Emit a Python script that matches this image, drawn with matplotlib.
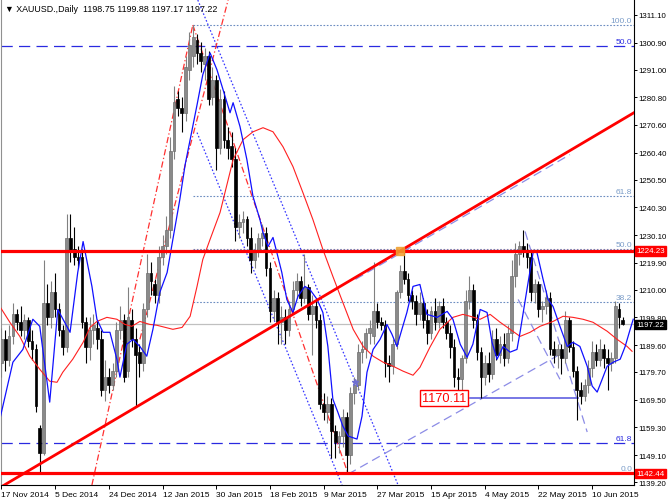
import matplotlib
matplotlib.use("Agg")
import matplotlib.pyplot as plt
import matplotlib.transforms as mtransforms
from matplotlib import font_manager
import numpy as np

# narrow font if there is one, otherwise Arial-like Liberation Sans
installed = {f.name for f in font_manager.fontManager.ttflist}
if 'Liberation Sans Narrow' in installed:
    FONT, FS, FS_Y = 'Liberation Sans Narrow', 6.8, 6.8
else:
    FONT, FS, FS_Y = 'Liberation Sans', 6.0, 5.7
plt.rcParams['font.family'] = [FONT, 'DejaVu Sans']

# daily bars (XAUUSD)
opens = [1183, 1192, 1184, 1193, 1201, 1198, 1195, 1199, 1191, 1188,
         1159, 1150, 1205, 1200, 1209, 1203, 1195, 1189, 1229, 1225,
         1222, 1222, 1198, 1189, 1195, 1196, 1192, 1173, 1178, 1175,
         1180, 1195, 1199, 1180, 1199, 1192, 1187, 1183, 1203, 1216,
         1212, 1208, 1222, 1226, 1232, 1261, 1280, 1277, 1275, 1291,
         1296, 1302, 1297, 1293, 1296, 1281, 1287, 1262, 1280, 1265,
         1263, 1258, 1233, 1235, 1236, 1229, 1221, 1224, 1229, 1231,
         1218, 1202, 1207, 1198, 1200, 1195, 1203, 1210, 1213, 1207,
         1211, 1201, 1204, 1199, 1168, 1165, 1168, 1158, 1154, 1156,
         1163, 1149, 1172, 1175, 1187, 1188, 1194, 1193, 1202, 1198,
         1197, 1183, 1182, 1190, 1209, 1217, 1214, 1208, 1206, 1201,
         1205, 1199, 1194, 1202, 1198, 1204, 1198, 1194, 1189, 1178,
         1177, 1185, 1206, 1210, 1199, 1187, 1178, 1183, 1179, 1192,
         1186, 1190, 1185, 1194, 1215, 1223, 1226, 1224, 1222, 1209,
         1212, 1203, 1204, 1207, 1188, 1186, 1188, 1185, 1199, 1189,
         1180, 1173, 1171, 1175, 1181, 1187, 1184, 1188, 1185, 1183,
         1185, 1203, 1198.75]
highs = [1196, 1195, 1197, 1205, 1203, 1204, 1201, 1200, 1195, 1190,
         1160, 1221, 1212, 1213, 1216, 1205, 1197, 1238, 1238, 1233,
         1226, 1225, 1200, 1200, 1201, 1199, 1195, 1184, 1181, 1183,
         1198, 1204, 1201, 1211, 1203, 1196, 1190, 1205, 1223, 1220,
         1214, 1226, 1230, 1237, 1266, 1285, 1283, 1281, 1296, 1305,
         1307.4, 1304, 1301, 1299, 1298, 1292, 1289, 1284, 1283, 1270,
         1268, 1262, 1238, 1239, 1237, 1233, 1227, 1231, 1234, 1233,
         1220, 1210, 1209, 1204, 1203, 1206, 1213, 1216, 1215, 1223,
         1212, 1208, 1206, 1201, 1172, 1171, 1170, 1160, 1158, 1166,
         1165, 1174, 1178, 1190, 1191, 1196, 1199, 1220, 1205, 1200,
         1199, 1186, 1192, 1210, 1219, 1224.8, 1216, 1210, 1208, 1209,
         1207, 1203, 1204, 1207, 1206, 1207, 1200, 1197, 1192, 1181,
         1186, 1210, 1215, 1212, 1201, 1189, 1186, 1187, 1195, 1196,
         1193, 1194, 1197, 1221, 1227, 1228, 1232, 1227, 1224, 1214,
         1213, 1206, 1210, 1209, 1191, 1190, 1190, 1202, 1200, 1191,
         1182, 1176, 1177, 1184, 1191, 1190, 1192, 1190, 1188, 1187,
         1206, 1205, 1199.88]
lows = [1178, 1180, 1182, 1190, 1195, 1193, 1192, 1189, 1184, 1165,
        1142.4, 1149, 1197, 1196, 1200, 1193, 1186, 1187, 1220, 1219,
        1218, 1196, 1183, 1184, 1190, 1188, 1171, 1169, 1172, 1173,
        1178, 1192, 1176, 1178, 1189, 1167, 1178, 1180, 1200, 1208,
        1205, 1205, 1219, 1223, 1229, 1258, 1274, 1268, 1272, 1287,
        1292, 1293, 1290, 1287, 1278, 1278, 1254, 1260, 1262, 1258,
        1255, 1228, 1229, 1231, 1226, 1216, 1218, 1222, 1226, 1215,
        1198, 1199, 1190, 1190, 1190, 1193, 1201, 1207, 1204, 1205,
        1199, 1186, 1196, 1166, 1162, 1161, 1148, 1148, 1150, 1152,
        1142.5, 1146, 1168, 1173, 1183, 1185, 1190, 1190, 1196, 1195,
        1178, 1176, 1179, 1188, 1207, 1212, 1206, 1203, 1197, 1199,
        1196, 1190, 1192, 1195, 1196, 1196, 1192, 1185, 1174, 1172,
        1172, 1183, 1203, 1196, 1184, 1170.11, 1175, 1176, 1177, 1184,
        1183, 1182, 1183, 1191, 1211, 1219, 1222, 1218, 1206, 1205,
        1200, 1198, 1201, 1186, 1183, 1181, 1179, 1183, 1187, 1178,
        1162, 1168, 1169, 1172, 1178, 1182, 1182, 1181, 1173, 1180,
        1183, 1196, 1197.17]
closes = [1192, 1184, 1193, 1201, 1198, 1195, 1199, 1191, 1188, 1167,
          1150, 1205, 1200, 1209, 1203, 1195, 1189, 1229, 1224, 1222,
          1221, 1198, 1189, 1195, 1197, 1192, 1173, 1178, 1175, 1180,
          1195, 1199, 1178, 1200, 1192, 1186, 1183, 1203, 1216, 1213,
          1208, 1222, 1226, 1232, 1261, 1279, 1277, 1275, 1292, 1300,
          1303, 1297, 1294, 1296, 1280, 1287, 1262, 1280, 1265, 1262,
          1258, 1233, 1235, 1236, 1229, 1221, 1224, 1229, 1231, 1218,
          1202, 1207, 1198, 1200, 1195, 1203, 1210, 1213, 1207, 1211,
          1201, 1204, 1199, 1168, 1165, 1168, 1158, 1154, 1156, 1163,
          1149, 1172, 1175, 1187, 1188, 1194, 1196, 1202, 1198, 1197,
          1183, 1182, 1190, 1209, 1217, 1214, 1208, 1206, 1201, 1205,
          1199, 1194, 1202, 1198, 1204, 1198, 1194, 1189, 1178, 1177,
          1185, 1206, 1210, 1199, 1187, 1178, 1183, 1179, 1192, 1186,
          1190, 1185, 1194, 1215, 1223, 1226, 1224, 1222, 1209, 1212,
          1203, 1204, 1207, 1188, 1186, 1188, 1185, 1199, 1189, 1180,
          1173, 1171, 1175, 1181, 1187, 1184, 1188, 1185, 1183, 1185,
          1204, 1200, 1197.22]

date_labels = ['17 Nov 2014', '5 Dec 2014', '24 Dec 2014', '12 Jan 2015',
               '30 Jan 2015', '18 Feb 2015', '9 Mar 2015', '27 Mar 2015',
               '15 Apr 2015', '4 May 2015', '22 May 2015', '10 Jun 2015']
date_bars = [0, 14, 28, 42, 56, 70, 84, 98, 112, 126, 140, 154]
price_ticks = [1311.10, 1300.90, 1291.00, 1280.80, 1270.60, 1260.40, 1250.50,
               1240.30, 1230.10, 1219.90, 1210.00, 1199.80, 1189.60, 1179.70,
               1169.50, 1159.30, 1149.10, 1139.20]

# fast MA (blue) and slow MA (red), traced as (bar, price)
fast_bar = [-0.4, 3.0, 5.6, 8.2, 10.0, 12.6, 14.7, 17.9, 19.9, 21.3, 23.6, 24.9,
            26.5, 28.3, 30.1, 30.9, 32.7, 34.3, 36.1, 37.9, 39.5, 41.3, 43.2,
            44.7, 46.5, 47.9, 49.2, 51.0, 52.5, 54.4, 56.2, 57.8, 59.6, 60.4,
            62.2, 64.0, 65.6, 67.4, 68.2, 69.5, 70.8, 71.8, 73.1, 74.4, 76.0,
            77.3, 79.1, 80.4, 82.3, 83.8, 85.1, 86.4, 87.7, 89.0, 90.4, 92.7,
            94.0, 95.3, 96.9, 98.7, 100.5, 101.8, 103.1, 104.4, 105.7, 107.3,
            109.1, 110.9, 113.6, 116.2, 117.7, 119.6, 121.4, 122.9, 124.8,
            126.6, 127.9, 129.2, 130.8, 132.6, 134.4, 135.2, 137.0, 138.6,
            139.6, 141.2, 142.5, 143.8, 145.6, 147.5, 149.0, 150.8, 152.7,
            154.0, 155.3, 156.6, 157.9, 159.5, 161.3, 162.6, 163.9, 164.7]
fast_val = [1162.3, 1183.3, 1188.0, 1199.1, 1196.5, 1168.6, 1202.7, 1194.3,
            1216.3, 1227.7, 1211.2, 1199.1, 1194.3, 1194.3, 1184.4, 1177.8,
            1189.9, 1191.7, 1189.1, 1185.5, 1195.4, 1209.0, 1216.3, 1228.5,
            1243.1, 1256.0, 1265.2, 1278.0, 1289.1, 1297.1, 1290.9, 1283.5,
            1275.1, 1278.8, 1270.0, 1257.8, 1244.2, 1235.8, 1231.0, 1225.9,
            1229.2, 1223.7, 1216.3, 1206.4, 1201.6, 1207.5, 1211.2, 1210.1,
            1206.4, 1201.6, 1189.1, 1169.7, 1164.9, 1159.8, 1156.1, 1155.0,
            1163.4, 1179.6, 1188.0, 1191.7, 1197.2, 1193.6, 1189.1, 1195.4,
            1201.6, 1211.2, 1211.9, 1200.9, 1199.8, 1202.0, 1199.1, 1189.9,
            1185.1, 1189.9, 1202.7, 1201.6, 1190.6, 1184.4, 1189.1, 1187.0,
            1188.0, 1194.3, 1210.1, 1223.7, 1223.7, 1213.8, 1206.4, 1203.8,
            1196.5, 1189.1, 1190.6, 1189.1, 1181.8, 1174.5, 1172.3, 1177.0,
            1181.8, 1183.3, 1184.4, 1189.1, 1195.4, 1199.1]
slow_bar = [-0.4, 2.2, 4.8, 7.4, 10.0, 12.6, 14.5, 16.0, 18.6, 21.3, 23.1, 24.9,
            27.5, 30.1, 32.2, 34.0, 36.1, 38.7, 40.5, 44.7, 47.1, 49.2, 51.0,
            52.5, 54.4, 57.0, 60.4, 63.0, 65.6, 68.2, 70.8, 73.4, 76.0, 78.6,
            81.2, 83.8, 86.4, 89.0, 91.7, 94.3, 96.9, 99.5, 102.1, 104.7,
            107.3, 109.1, 111.7, 114.3, 117.7, 120.3, 122.2, 124.8, 127.4,
            130.0, 132.6, 135.2, 137.8, 140.4, 143.8, 146.4, 149.0, 151.6,
            154.2, 157.9, 160.5, 163.1, 164.4]
slow_val = [1203.8, 1198.0, 1192.8, 1185.5, 1180.7, 1176.3, 1175.9, 1179.6,
            1184.4, 1190.6, 1196.1, 1198.3, 1199.8, 1199.1, 1197.2, 1196.5,
            1198.3, 1197.2, 1196.9, 1195.4, 1196.1, 1200.2, 1211.2, 1221.1,
            1228.5, 1238.4, 1257.8, 1265.2, 1268.1, 1269.6, 1268.1, 1262.6,
            1255.3, 1245.7, 1235.8, 1224.8, 1214.9, 1205.3, 1195.4, 1189.1,
            1185.5, 1183.3, 1181.8, 1180.0, 1178.5, 1181.4, 1188.8, 1195.4,
            1199.8, 1200.9, 1200.2, 1199.1, 1200.9, 1198.0, 1195.4, 1192.8,
            1194.3, 1196.5, 1198.3, 1200.2, 1199.8, 1199.1, 1198.0, 1194.7,
            1191.7, 1189.1, 1187.3]

# drawn objects, each as two (bar, price) anchors
support_line = [(10.0, 1145.8), (103.9, 1224.2)]          # thick red trend line
channel_up = [(92.3, 1213.8), (148.2, 1259.7)]             # thin dashed, upper
channel_low = [(90.4, 1142.1), (145.6, 1186.2)]            # thin dashed, lower
down_dotted = [[(51.2, 1316.6), (103.4, 1138.1)],
               [(51.0, 1267.8), (88.8, 1138.1)]]
red_dashdot = [[(23.6, 1138.1), (49.9, 1307.4)],
               [(36.1, 1191.7), (59.1, 1316.6)],
               [(49.9, 1307.4), (90.4, 1142.1)]]
late_dashed = [[(136.5, 1231.4), (152.7, 1157.6)],
               [(134.7, 1206.4), (145.6, 1177.0)]]
low_mark = [(122.2, 1170.11), (150.3, 1170.11)]

fib_names = ['0.0', '38.2', '50.0', '61.8', '100.0']
fib_prices = [1142.44, 1205.45, 1224.92, 1244.39, 1307.40]
outer_fib_names = ['50.0', '61.8']
outer_fib_prices = [1299.6, 1153.5]

resistance = 1224.23
support = 1142.44
last_price = 1197.22

X_MIN, X_MAX = -0.1, 164.9
Y_MIN, Y_MAX = 1138.1, 1316.6


def draw_segment(ax, pts, **kw):
    (x0, y0), (x1, y1) = pts
    ax.plot([x0, x1], [y0, y1], **kw)


def extend_line(pts):
    # stretch a line through two anchors across the visible bars
    (x0, y0), (x1, y1) = pts
    k = (y1 - y0) / (x1 - x0)
    return [X_MIN - 5, X_MAX + 5], [y0 + k * (X_MIN - 5 - x0), y0 + k * (X_MAX + 5 - x0)]


fig = plt.figure(figsize=(6.7, 5.02), dpi=100)
ax = fig.add_axes([1 / 670, 16 / 502, 633 / 670, 485 / 502])
ax.set_xlim(X_MIN, X_MAX)
ax.set_ylim(Y_MIN, Y_MAX)

# horizontal levels
ax.axhline(last_price, color='#c0c0c0', lw=0.9, zorder=1)
for p in outer_fib_prices:
    ax.axhline(p, color='#2a2ae0', lw=0.9, dashes=(9, 5), zorder=2)
for p in fib_prices:
    ax.plot([50, X_MAX], [p, p], color='#6b8cc0', lw=0.8, ls=(0, (1.5, 1.5)), zorder=2)
ax.axhline(resistance, color='#ff0000', lw=2.3, zorder=5)
ax.axhline(support, color='#ff0000', lw=2.3, zorder=5)

# trend lines
xs, ys = extend_line(support_line)
ax.plot(xs, ys, color='#ff0000', lw=2.0, zorder=5)
for seg in down_dotted:
    draw_segment(ax, seg, color='#3535ff', lw=0.9, ls=(0, (1.3, 1.6)), zorder=3)
for seg in red_dashdot:
    draw_segment(ax, seg, color='#ff3030', lw=0.9, ls=(0, (5, 2, 1, 2)), zorder=3)
for seg in late_dashed + [channel_up, channel_low]:
    draw_segment(ax, seg, color='#8c8ce6', lw=0.9, dashes=(7, 4), zorder=3)
draw_segment(ax, low_mark, color='#6060e0', lw=1.2, zorder=3)

# candles
o = np.array(opens)
h = np.array(highs)
l = np.array(lows)
c = np.array(closes)
idx = np.arange(len(c))
up = c >= o
wick_col = np.where(up, '#808080', '#000000')
ax.vlines(idx, l, h, colors=wick_col, lw=0.8, zorder=4)
body_lo = np.minimum(o, c)
body_h = np.maximum(np.abs(c - o), 0.35)
ax.bar(idx[up], body_h[up], bottom=body_lo[up], width=0.72,
       color='#8a8a8a', edgecolor='#6e6e6e', linewidth=0.5, zorder=4)
ax.bar(idx[~up], body_h[~up], bottom=body_lo[~up], width=0.72,
       color='#000000', edgecolor='#000000', linewidth=0.5, zorder=4)

# moving averages
ax.plot(slow_bar, slow_val, color='#ff2020', lw=0.8, zorder=4)
ax.plot(fast_bar, fast_val, color='#1010ff', lw=0.9, zorder=4)

# marks
ax.plot([103.9], [1224.2], marker='s', ms=6, color='#f0a030', alpha=0.85, zorder=6)
ax.plot([92.2], [1175.9], marker='*', ms=5, color='#7070d0', zorder=6)
ax.text(115.4, 1170.11, '1170.11', color='#ff0000', fontsize=9.2,
        ha='center', va='center', zorder=7,
        bbox=dict(boxstyle='square,pad=0.15', fc='white', ec='#ff0000', lw=1))

# level captions
tr = mtransforms.blended_transform_factory(ax.transAxes, ax.transData)
for name, p in zip(fib_names, fib_prices):
    ax.text(0.997, p + 0.4, name, transform=tr, ha='right', va='bottom',
            color='#7a9cc8', fontsize=FS, zorder=7)
for name, p in zip(outer_fib_names, outer_fib_prices):
    ax.text(0.997, p + 0.4, name, transform=tr, ha='right', va='bottom',
            color='#2a2ae0', fontsize=FS, zorder=7)

# axes look
ax.spines['top'].set_visible(False)
ax.spines['left'].set_color('#909090')
ax.spines['right'].set_color('black')
ax.spines['bottom'].set_color('black')
ax.yaxis.tick_right()
ax.set_yticks(price_ticks)
ax.set_yticklabels(['%.2f' % v for v in price_ticks])
ax.set_xticks(date_bars)
ax.set_xticklabels(date_labels, ha='left')
ax.tick_params(axis='x', labelsize=FS, length=3, width=0.7, pad=1, colors='black')
ax.tick_params(axis='y', labelsize=FS_Y, length=2.5, width=0.7, pad=1, colors='black')

# price tags on the scale
for p, bg in [(resistance, '#ff0000'), (last_price, '#000000'), (support, '#ff0000')]:
    ax.text(1.004, p, '%.2f' % p, transform=tr, ha='left', va='center',
            color='white', fontsize=FS_Y, zorder=8, clip_on=False,
            bbox=dict(boxstyle='square,pad=0.15', fc=bg, ec=bg))

fig.text(5 / 670, 1 - 10 / 502, '\u25bc XAUUSD.,Daily  1198.75 1199.88 1197.17 1197.22',
         fontsize=FS + 0.4, va='center', ha='left',
         family=[FONT, 'DejaVu Sans'])

fig.savefig('out.png', dpi=100)
